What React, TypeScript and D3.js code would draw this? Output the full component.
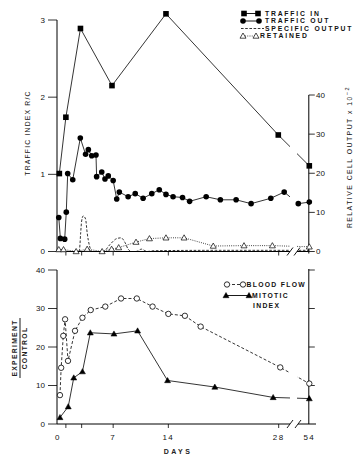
import React from "react";
import * as d3 from "d3";

const W = 363;
const H = 464;
const FONT = "'Liberation Sans', Arial, Helvetica, sans-serif";

// x axis (days), with a break between 28 and 54
const dayTicks = [0, 7, 14, 28, 54];
const minorDayTicks = [1, 3];

// top panel, left axis (traffic index R/C)
const trafficInDays = [0.17, 1, 2.85, 6.85, 13.7, 27.95, 54];
const trafficInVals = [1.01, 1.74, 2.89, 2.15, 3.08, 1.51, 1.11];

const trafficOutDays = [0.1, 0.3, 0.85, 1.05, 1.23, 1.87, 2.83, 3.5, 3.85, 4.28, 4.82, 4.9, 5.55, 5.96, 6.38, 7.0, 7.45, 7.78, 8.9, 9.8, 10.8, 11.9, 12.85, 13.7, 14.6, 15.8, 16.7, 18.8, 20.6, 22.6, 24.5, 27.0, 28.7, 52.6, 54];
const trafficOutVals = [0.44, 0.17, 0.16, 0.51, 1.01, 0.93, 1.47, 1.26, 1.32, 1.24, 1.25, 0.97, 1.03, 0.94, 0.98, 0.92, 0.68, 0.77, 0.71, 0.75, 0.69, 0.75, 0.8, 0.74, 0.71, 0.7, 0.65, 0.71, 0.67, 0.67, 0.62, 0.69, 0.77, 0.62, 0.64];

// top panel, right axis (relative cell output x10^-2)
const specificDays = [0, 2.0, 2.7, 2.88, 3.0, 3.2, 3.5, 3.7, 4.0, 4.3, 5.75, 6.6, 7.45, 8.0, 8.5, 8.9, 9.35, 9.9, 10.6, 11.3, 12.2, 20, 29.5, 52.5, 54];
const specificVals = [0, 0, 0.1, 4.8, 7.8, 9.1, 8.3, 4.8, 1.4, 0, 0, 1.8, 3.3, 3.5, 2.3, 0.6, 0, 0, 0.6, 0, 0.2, 0.3, 0.3, 0.3, 0.3];

const retainedDays = [0.1, 0.7, 2.3, 3.7, 5.6, 6.8, 7.7, 9.9, 11.6, 13.7, 16, 19.7, 23.6, 27.2, 54];
const retainedVals = [0.5, 0.5, 0, 0.6, 0, 0.6, 1.0, 2.4, 3.3, 3.5, 3.5, 1.4, 1.5, 1.5, 1.2];

const topLeftTicks = [0, 1, 2, 3];
const topRightTicks = [0, 10, 20, 30, 40];

// bottom panel (experiment / control)
const bloodDays = [0.25, 0.4, 0.67, 0.9, 1.27, 2.16, 3.1, 4.15, 6.0, 8.0, 10.0, 12.0, 14.0, 16.1, 18.1, 28.2, 54];
const bloodVals = [7.5, 14.6, 22.9, 27.2, 16.4, 24.2, 27.6, 29.6, 30.5, 32.6, 32.6, 30.5, 28.6, 28.1, 25.3, 14.7, 10.5];

const mitoticDays = [0.25, 1.3, 2.0, 3.1, 4.1, 7.1, 10.1, 13.9, 19.9, 27.3, 54];
const mitoticVals = [1.7, 4.5, 12.0, 13.6, 23.7, 23.4, 24.2, 11.3, 9.6, 6.9, 6.6];

const bottomTicks = [0, 10, 20, 30, 40];

const x = d3.scaleLinear().domain([0, 29.5, 52.5, 54]).range([58, 290.5, 297.5, 309.3]);
const yTop = d3.scaleLinear().domain([0, 3]).range([251.5, 20]);
const yTopR = d3.scaleLinear().domain([0, 40]).range([251.5, 95]);
const yBot = d3.scaleLinear().domain([0, 40]).range([424, 270]);

const AX_L = 57;
const AX_R = 308.8;

type P = [number, number];
const zip = (a: number[], b: number[]): P[] => a.map((d, i) => [d, b[i]]);

const Square = ({ cx, cy }: { cx: number; cy: number }) => (
  <rect x={cx - 2.8} y={cy - 2.8} width={5.6} height={5.6} fill="#000" />
);
const Dot = ({ cx, cy }: { cx: number; cy: number }) => <circle cx={cx} cy={cy} r={2.8} fill="#000" />;
const Ring = ({ cx, cy }: { cx: number; cy: number }) => (
  <circle cx={cx} cy={cy} r={2.7} fill="#fff" stroke="#000" strokeWidth={0.8} />
);
const Tri = ({ cx, cy, filled }: { cx: number; cy: number; filled?: boolean }) => (
  <path
    d={`M${cx},${cy - 3} L${cx + 3},${cy + 2.2} L${cx - 3},${cy + 2.2} Z`}
    fill={filled ? "#000" : "#fff"}
    stroke="#000"
    strokeWidth={filled ? 0.5 : 0.7}
  />
);

const Slash = ({ cx, cy }: { cx: number; cy: number }) => (
  <line x1={cx - 3} y1={cy + 4} x2={cx + 3} y2={cy - 4} stroke="#000" strokeWidth={0.9} />
);

const App = () => {
  const lineTop = d3.line<P>().x((d) => x(d[0])).y((d) => yTop(d[1]));
  const lineTopR = d3.line<P>().x((d) => x(d[0])).y((d) => yTopR(d[1]));
  const smoothTopR = d3.line<P>().x((d) => x(d[0])).y((d) => yTopR(d[1])).curve(d3.curveMonotoneX);
  const lineBot = d3.line<P>().x((d) => x(d[0])).y((d) => yBot(d[1]));

  const tIn = zip(trafficInDays, trafficInVals);
  const tOut = zip(trafficOutDays, trafficOutVals);
  const spec = zip(specificDays, specificVals);
  const ret = zip(retainedDays, retainedVals);
  const blood = zip(bloodDays, bloodVals);
  const mit = zip(mitoticDays, mitoticVals);

  const tickText = { fontFamily: FONT, fontSize: 8, fontWeight: 400, fill: "#111" } as const;
  const legText = { fontFamily: FONT, fontSize: 6.8, fontWeight: 700, letterSpacing: 1.8, fill: "#111" } as const;

  return (
    <svg width={W} height={H} style={{ position: "absolute", left: 0, top: 0 }} fill="none">
      <defs>
        <clipPath id="brk">
          <rect x={0} y={0} width={290} height={H} />
          <rect x={297} y={0} width={W - 297} height={H} />
        </clipPath>
      </defs>
      <rect width={W} height={H} fill="#fff" />

      {/* ---------- top panel ---------- */}
      <g stroke="#000" strokeWidth={1}>
        <line x1={AX_L} y1={yTop(3)} x2={AX_L} y2={yTop(0)} />
        <line x1={AX_R} y1={yTopR(40)} x2={AX_R} y2={yTopR(0) + 2} />
        <line x1={AX_L} y1={yTop(0)} x2={290} y2={yTop(0)} />
        <line x1={297} y1={yTop(0)} x2={AX_R} y2={yTop(0)} />
      </g>
      <Slash cx={290} cy={yTop(0)} />
      <Slash cx={297} cy={yTop(0)} />
      {topLeftTicks.map((t) => (
        <g key={"tl" + t}>
          <line x1={48} x2={AX_L} y1={yTop(t)} y2={yTop(t)} stroke="#000" strokeWidth={0.8} />
          <text x={45} y={yTop(t)} dy="0.35em" textAnchor="end" style={tickText}>
            {t}
          </text>
        </g>
      ))}
      {topRightTicks.map((t) => (
        <g key={"tr" + t}>
          <line x1={AX_R} x2={AX_R + 6} y1={yTopR(t)} y2={yTopR(t)} stroke="#000" strokeWidth={0.8} />
          <text x={316} y={yTopR(t)} dy="0.35em" style={tickText}>
            {t}
          </text>
        </g>
      ))}
      {[...minorDayTicks, ...dayTicks.filter((d) => d > 0 && d < 54)].map((d) => (
        <line key={"tx" + d} x1={x(d)} x2={x(d)} y1={yTop(0)} y2={yTop(0) + 4} stroke="#000" strokeWidth={0.8} />
      ))}

      <text
        transform={`translate(30,133) rotate(-90)`}
        textAnchor="middle"
        style={{ fontFamily: FONT, fontSize: 6.8, fontWeight: 400, letterSpacing: 1.2, fill: "#111" }}
      >
        TRAFFIC INDEX R/C
      </text>
      <text
        transform={`translate(352,157) rotate(-90)`}
        textAnchor="middle"
        style={{ fontFamily: FONT, fontSize: 6.8, fontWeight: 400, letterSpacing: 1.5, fill: "#111" }}
      >
        RELATIVE CELL OUTPUT x 10
        <tspan dy={-3} fontSize={5.5}>
          −2
        </tspan>
      </text>

      <g clipPath="url(#brk)" stroke="#000" fill="none">
        <path d={smoothTopR(spec) ?? ""} strokeWidth={0.8} strokeDasharray="2.6,1.6" />
        <path d={lineTopR(ret) ?? ""} strokeWidth={0.9} strokeDasharray="0.8,1.4" />
        <path d={lineTop(tIn) ?? ""} strokeWidth={0.8} />
        <path d={lineTop(tOut) ?? ""} strokeWidth={0.8} />
      </g>
      {ret.map((d, i) => (
        <Tri key={"r" + i} cx={x(d[0])} cy={yTopR(d[1])} />
      ))}
      {tOut.map((d, i) => (
        <Dot key={"o" + i} cx={x(d[0])} cy={yTop(d[1])} />
      ))}
      {tIn.map((d, i) => (
        <Square key={"i" + i} cx={x(d[0])} cy={yTop(d[1])} />
      ))}

      {/* top legend */}
      <g>
        <line x1={244} x2={258} y1={13.5} y2={13.5} stroke="#000" strokeWidth={0.9} />
        <Square cx={244} cy={13.5} />
        <Square cx={258} cy={13.5} />
        <text x={265} y={13.5} dy="0.35em" style={legText}>TRAFFIC IN</text>

        <line x1={243} x2={259} y1={21} y2={21} stroke="#000" strokeWidth={0.9} />
        <Dot cx={243} cy={21} />
        <Dot cx={259} cy={21} />
        <text x={265} y={21} dy="0.35em" style={legText}>TRAFFIC OUT</text>

        <line x1={241} x2={264} y1={28.5} y2={28.5} stroke="#000" strokeWidth={0.8} strokeDasharray="2.6,1.6" />
        <text x={265} y={28.5} dy="0.35em" style={legText}>SPECIFIC OUTPUT</text>

        <line x1={243} x2={256} y1={36} y2={36} stroke="#000" strokeWidth={0.9} strokeDasharray="0.8,1.4" />
        <Tri cx={243} cy={36} />
        <Tri cx={256} cy={36} />
        <text x={260} y={36} dy="0.35em" style={legText}>RETAINED</text>
      </g>

      {/* ---------- bottom panel ---------- */}
      <g stroke="#000" strokeWidth={1}>
        <line x1={AX_L} y1={yBot(40)} x2={AX_L} y2={yBot(0)} />
        <line x1={AX_R} y1={yBot(40) - 1} x2={AX_R} y2={yBot(0)} />
        <line x1={AX_L} y1={yBot(0)} x2={290} y2={yBot(0)} />
        <line x1={298} y1={yBot(0)} x2={316} y2={yBot(0)} />
      </g>
      <Slash cx={290} cy={yBot(0)} />
      <Slash cx={298} cy={yBot(0)} />
      {bottomTicks.map((t) => (
        <g key={"bl" + t}>
          <line x1={48} x2={AX_L} y1={yBot(t)} y2={yBot(t)} stroke="#000" strokeWidth={0.8} />
          <text x={45} y={yBot(t)} dy="0.35em" textAnchor="end" style={tickText}>
            {t}
          </text>
          {t > 0 && (
            <line x1={AX_R} x2={AX_R + 6} y1={yBot(t)} y2={yBot(t)} stroke="#000" strokeWidth={0.8} />
          )}
        </g>
      ))}
      {[...minorDayTicks, ...dayTicks.filter((d) => d > 0 && d < 54)].map((d) => (
        <line key={"bx" + d} x1={x(d)} x2={x(d)} y1={yBot(0)} y2={yBot(0) + 4} stroke="#000" strokeWidth={0.8} />
      ))}
      {dayTicks.map((d) => (
        <text
          key={"bxl" + d}
          x={x(d)}
          y={437}
          dy="0.35em"
          textAnchor="middle"
          style={{ ...tickText, letterSpacing: 1.4 }}
        >
          {d}
        </text>
      ))}
      <text
        x={178}
        y={452}
        dy="0.35em"
        textAnchor="middle"
        style={{ fontFamily: FONT, fontSize: 7, fontWeight: 700, letterSpacing: 2.4, fill: "#222" }}
      >
        DAYS
      </text>

      <g transform="translate(20,348) rotate(-90)">
        <text
          x={0}
          y={-3}
          textAnchor="middle"
          style={{ fontFamily: FONT, fontSize: 6.8, fontWeight: 700, letterSpacing: 1.3, fill: "#222" }}
        >
          EXPERIMENT
        </text>
        <line x1={-30} x2={30} y1={0} y2={0} stroke="#000" strokeWidth={0.9} />
        <text
          x={0}
          y={7}
          textAnchor="middle"
          style={{ fontFamily: FONT, fontSize: 6.8, fontWeight: 700, letterSpacing: 1.3, fill: "#222" }}
        >
          CONTROL
        </text>
      </g>

      <g clipPath="url(#brk)" stroke="#000" fill="none">
        <path d={lineBot(blood) ?? ""} strokeWidth={0.8} strokeDasharray="3,2" />
        <path d={lineBot(mit) ?? ""} strokeWidth={0.8} />
      </g>
      {blood.map((d, i) => (
        <Ring key={"b" + i} cx={x(d[0])} cy={yBot(d[1])} />
      ))}
      {mit.map((d, i) => (
        <Tri key={"m" + i} cx={x(d[0])} cy={yBot(d[1])} filled />
      ))}

      {/* bottom legend */}
      <g>
        <line x1={227} x2={243} y1={284.5} y2={284.5} stroke="#000" strokeWidth={0.8} strokeDasharray="3,2" />
        <Ring cx={227} cy={284.5} />
        <Ring cx={243} cy={284.5} />
        <text x={246.5} y={284.5} dy="0.35em" style={{ ...legText, letterSpacing: 1.3 }}>BLOOD FLOW</text>

        <line x1={226} x2={249} y1={295.5} y2={295.5} stroke="#000" strokeWidth={0.9} />
        <Tri cx={226} cy={295.5} filled />
        <Tri cx={249} cy={295.5} filled />
        <text x={252} y={295.5} dy="0.35em" style={{ ...legText, letterSpacing: 1.3 }}>MITOTIC</text>
        <text x={253} y={305.5} dy="0.35em" style={{ ...legText, letterSpacing: 1.3 }}>INDEX</text>
      </g>
    </svg>
  );
};

export default App;
